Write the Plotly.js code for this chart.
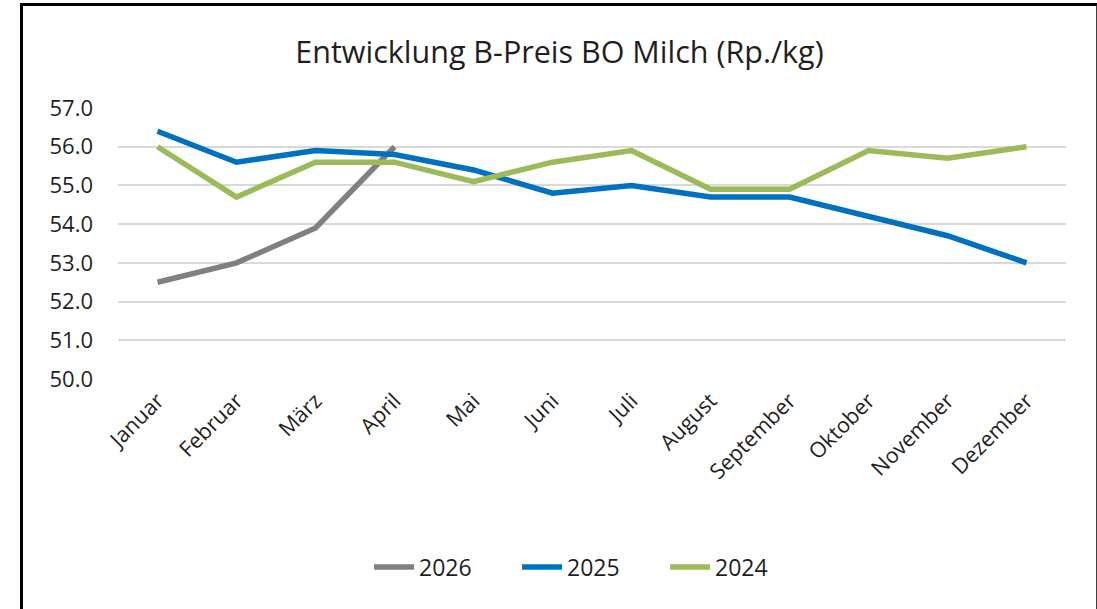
<!DOCTYPE html>
<html>
<head>
<meta charset="utf-8">
<script src="https://cdn.plot.ly/plotly-3.0.1.min.js"></script>
<style>
  html, body { margin: 0; padding: 0; background: #fff; }
  #chart { width: 1097px; height: 609px; position: absolute; left: 0; top: 0; }
  #frame { position: absolute; left: 20px; top: 3px; width: 1073px; height: 640px;
           border-left: 3px solid #000; border-top: 3px solid #000; border-right: 2px solid #404040;
           pointer-events: none; }
</style>
</head>
<body>
<div id="chart"></div>
<div id="frame"></div>
<script>
const months = ["Januar","Februar","März","April","Mai","Juni","Juli","August","September","Oktober","November","Dezember"];
const y2026 = [52.5, 53.0, 53.9, 56.0];
const y2025 = [56.4, 55.6, 55.9, 55.8, 55.4, 54.8, 55.0, 54.7, 54.7, 54.2, 53.7, 53.0];
const y2024 = [56.0, 54.7, 55.6, 55.6, 55.1, 55.6, 55.9, 54.9, 54.9, 55.9, 55.7, 56.0];
const yTicks = [50, 51, 52, 53, 54, 55, 56, 57];

const font = "Open Sans, Noto Sans, sans-serif";
const txt = "#1f1f1f";
const traces = [
  {name: "2026", x: months.slice(0, y2026.length), y: y2026, type: "scatter", mode: "lines",
   line: {color: "#808080", width: 5.5}},
  {name: "2025", x: months, y: y2025, type: "scatter", mode: "lines",
   line: {color: "#0070C0", width: 5.5}},
  {name: "2024", x: months, y: y2024, type: "scatter", mode: "lines",
   line: {color: "#9BBB59", width: 5.5}}
];

const layout = {
  width: 1097, height: 609,
  margin: {l: 118, r: 31, t: 108, b: 230},
  paper_bgcolor: "#fff", plot_bgcolor: "#fff",
  font: {family: font, color: txt, size: 22},
  title: {text: "Entwicklung B-Preis BO Milch (Rp./kg)", x: 0.51, xref: "container",
          y: 0.914, yref: "container", yanchor: "middle", xanchor: "center",
          font: {family: font, size: 30.5, color: txt}},
  xaxis: {type: "category", categoryorder: "array", categoryarray: months,
          range: [-0.5, 11.5], tickangle: -45, showgrid: false, zeroline: false,
          showline: false, ticks: "", ticklabelstandoff: 4,
          tickfont: {family: font, size: 21.5, color: txt}},
  yaxis: {range: [50, 57], tickvals: yTicks, ticktext: yTicks.map(v => v.toFixed(1)),
          showgrid: true, gridcolor: "#d9d9d9", gridwidth: 2, zeroline: false,
          showline: false, ticks: "", ticklabelstandoff: 24,
          tickfont: {family: font, size: 22, color: txt}},
  showlegend: true,
  legend: {orientation: "h", x: 0.499, xanchor: "center", y: -0.694, yanchor: "middle",
           font: {family: font, size: 23, color: txt}, itemwidth: 40, entrywidth: 93,
           traceorder: "normal"},
  hovermode: false
};

Plotly.newPlot("chart", traces, layout, {displayModeBar: false, staticPlot: true});
</script>
</body>
</html>
